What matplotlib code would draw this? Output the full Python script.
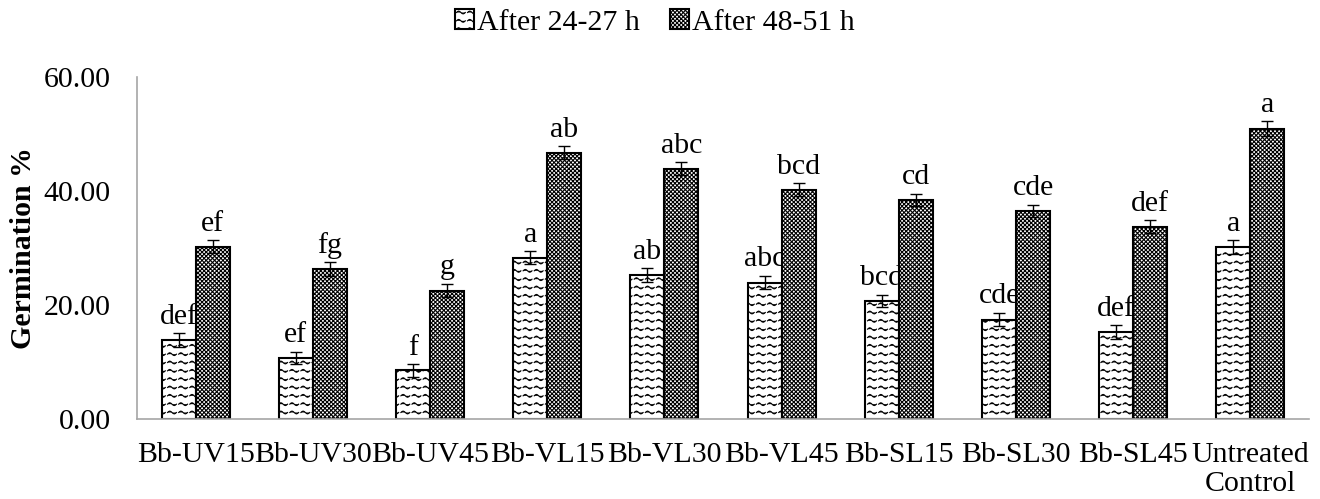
import warnings
warnings.filterwarnings("ignore")
import numpy as np
import matplotlib
matplotlib.use("Agg")
import matplotlib.pyplot as plt
import matplotlib.hatch as mhatch
from matplotlib.path import Path

categories = ["Bb-UV15", "Bb-UV30", "Bb-UV45", "Bb-VL15", "Bb-VL30", "Bb-VL45",
              "Bb-SL15", "Bb-SL30", "Bb-SL45", "Untreated\nControl"]
series_names = ["After 24-27 h", "After 48-51 h"]
s1_values = [13.9, 10.8, 8.6, 28.4, 25.3, 24.0, 20.8, 17.5, 15.3, 30.2]
s2_values = [30.3, 26.4, 22.6, 46.8, 44.0, 40.3, 38.5, 36.6, 33.8, 51.0]
s1_err = [1.2, 1.1, 1.1, 1.1, 1.2, 1.2, 1.1, 1.2, 1.2, 1.2]
s2_err = [1.1, 1.2, 1.2, 1.1, 1.1, 1.1, 1.1, 1.1, 1.1, 1.3]
s1_letters = ["def", "ef", "f", "a", "ab", "abc", "bcd", "cde", "def", "a"]
s2_letters = ["ef", "fg", "g", "ab", "abc", "bcd", "cd", "cde", "def", "a"]
y_ticks = [0, 20, 40, 60]


class WaveHatch(mhatch.HatchPatternBase):
    def __init__(self, hatch, density):
        n = hatch.count('~')
        self.rows = 12 * n
        self.periods = 9
        self.pts = 9
        self.num_vertices = self.rows * self.periods * self.pts

    def set_vertices_and_codes(self, vertices, codes):
        if self.num_vertices == 0:
            return
        p = 1.0 / self.periods
        t = np.linspace(0, 2 * np.pi, self.pts)
        i = 0
        for r in range(self.rows):
            y0 = (r + 0.5) / self.rows
            for k in range(self.periods):
                xs = k * p + np.linspace(0.08 * p, 0.88 * p, self.pts)
                ys = y0 + 0.014 * np.sin(t)
                vertices[i:i + self.pts, 0] = xs
                vertices[i:i + self.pts, 1] = ys
                codes[i] = Path.MOVETO
                codes[i + 1:i + self.pts] = Path.LINETO
                i += self.pts


mhatch._hatch_types.append(WaveHatch)

plt.rcParams['font.family'] = ['Liberation Serif', 'DejaVu Serif']
plt.rcParams['hatch.linewidth'] = 0.8
plt.rcParams['hatch.color'] = 'black'

FS = 21.5

fig = plt.figure(figsize=(13.2, 4.99), dpi=100)
ax = fig.add_axes([0.1038, 0.1597, 0.8879, 0.685])

x = np.arange(len(categories))
w = 0.29
b1 = ax.bar(x - w / 2, s1_values, w, facecolor='white', edgecolor='black',
            linewidth=1.5, hatch='~', label=series_names[0], zorder=2)
b2 = ax.bar(x + w / 2, s2_values, w, facecolor='white', edgecolor='black',
            linewidth=1.5, hatch='xxxxxxxx', label=series_names[1], zorder=2)
ax.errorbar(x - w / 2, s1_values, yerr=s1_err, fmt='none', ecolor='black',
            elinewidth=1, capsize=4.5, capthick=1, zorder=3)
ax.errorbar(x + w / 2, s2_values, yerr=s2_err, fmt='none', ecolor='black',
            elinewidth=1, capsize=4.5, capthick=1, zorder=3)

for xi, v, e, lab in zip(x - w / 2, s1_values, s1_err, s1_letters):
    ax.annotate(lab, (xi, v + e), xytext=(0, 2.5), textcoords='offset points',
                ha='center', va='bottom', fontsize=FS, zorder=1)
for xi, v, e, lab in zip(x + w / 2, s2_values, s2_err, s2_letters):
    ax.annotate(lab, (xi, v + e), xytext=(0, 2.5), textcoords='offset points',
                ha='center', va='bottom', fontsize=FS, zorder=1)

ax.set_xlim(-0.5, len(categories) - 0.5)
ax.set_ylim(0, 60)
ax.set_yticks(y_ticks)
ax.set_yticklabels([f"{t:.2f}" for t in y_ticks])
ax.set_xticks(x)
ax.set_xticklabels(categories, linespacing=1.15)
ax.tick_params(axis='y', length=0, pad=19, labelsize=FS)
ax.tick_params(axis='x', length=0, pad=16, labelsize=FS)
for s in ['top', 'right']:
    ax.spines[s].set_visible(False)
for s in ['left', 'bottom']:
    ax.spines[s].set_color('#a6a6a6')
    ax.spines[s].set_linewidth(1.2)

ax.set_ylabel("Germination %", fontsize=FS, fontweight='bold')
ax.yaxis.set_label_coords(-0.085, 0.5)

fig.legend(handles=[b1, b2], loc='center', bbox_to_anchor=(0.496, 0.955),
           ncol=2, frameon=False, fontsize=FS, handlelength=0.65,
           handleheight=0.65, handletextpad=0.1, columnspacing=1.0)

fig.savefig("out.png", dpi=100)
